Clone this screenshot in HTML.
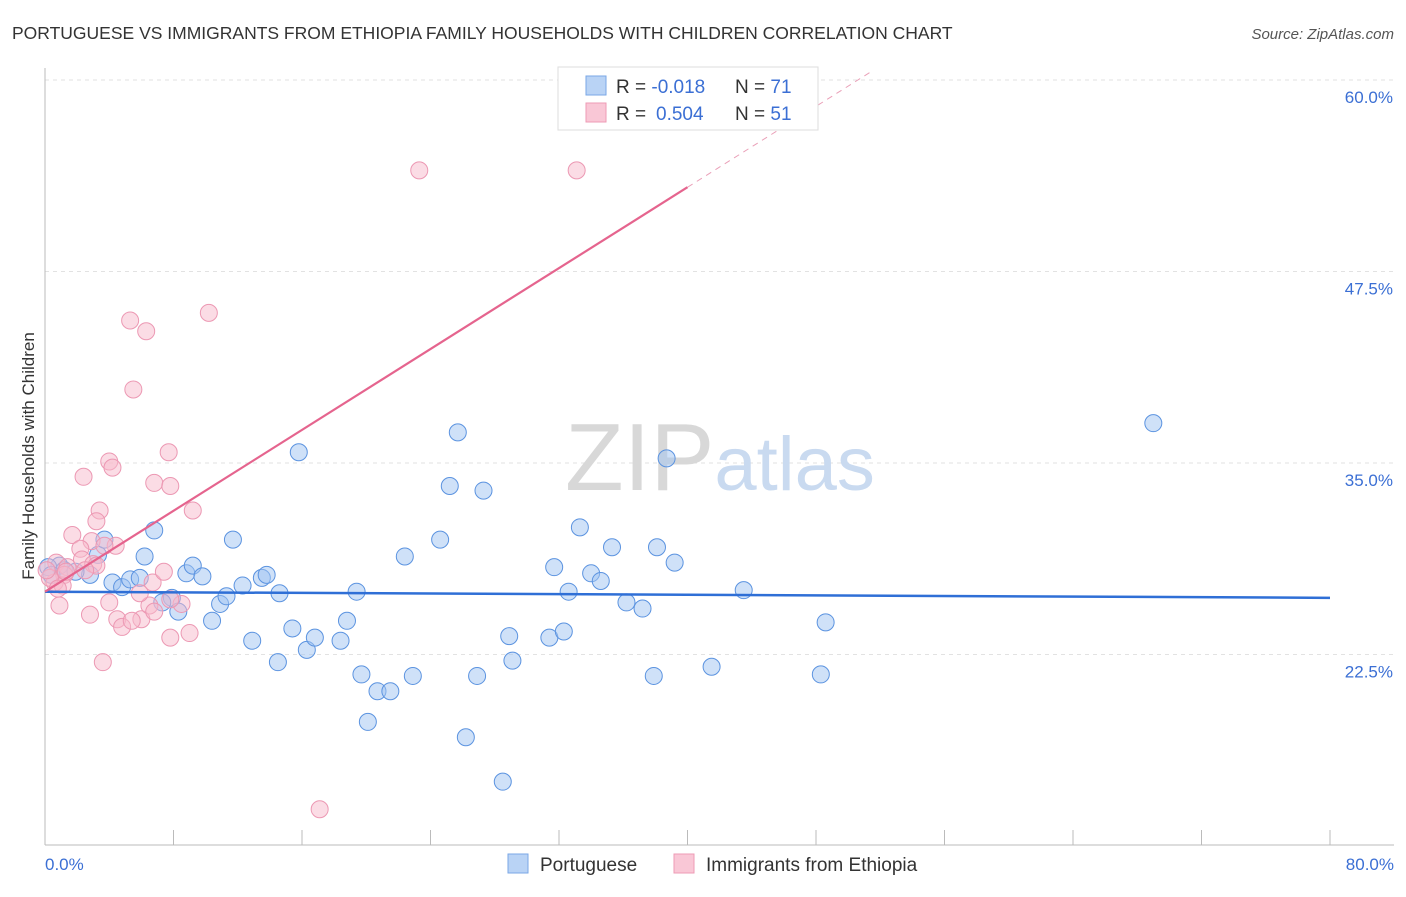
<!DOCTYPE html>
<html><head><meta charset="utf-8"><style>
body{margin:0;background:#fff;font-family:"Liberation Sans",sans-serif;}
svg text{font-family:"Liberation Sans",sans-serif;}
</style></head><body>
<svg id="chart" width="1406" height="892" xmlns="http://www.w3.org/2000/svg">
<text x="12" y="39" font-size="17.5" fill="#333">PORTUGUESE VS IMMIGRANTS FROM ETHIOPIA FAMILY HOUSEHOLDS WITH CHILDREN CORRELATION CHART</text>
<text x="1394" y="39" font-size="15" fill="#555" text-anchor="end" font-style="italic">Source: ZipAtlas.com</text>
<g id="grid"></g>
<text x="720" y="490" font-size="96" text-anchor="middle" fill="#ddd" font-family="Liberation Serif"><tspan fill="#d8d8d8">ZIP</tspan><tspan fill="#c9daf0" font-family="Liberation Sans" font-size="76">atlas</tspan></text>
<line x1="45" y1="68" x2="45" y2="845" stroke="#bbb"/>
<line x1="45" y1="845" x2="1394" y2="845" stroke="#bbb"/>
<text transform="translate(34,456) rotate(-90)" font-size="17" fill="#333" text-anchor="middle">Family Households with Children</text>
<text x="45" y="870" font-size="17" fill="#3b6fd4">0.0%</text>
<text x="1394" y="870" font-size="17" fill="#3b6fd4" text-anchor="end">80.0%</text>
<g id="marks"></g>
<g id="lines"></g>
<g>
<rect x="558" y="67" width="260" height="63" fill="#fff" stroke="#ddd"/>
<rect x="586" y="76" width="20" height="19" fill="#b9d3f5" stroke="#7aa7e6"/>
<rect x="586" y="103" width="20" height="19" fill="#f9c7d6" stroke="#ee9bb5"/>
<text x="616" y="93" font-size="19" fill="#333">R = <tspan fill="#3b6fd4">-0.018</tspan><tspan x="735">N = </tspan><tspan fill="#3b6fd4">71</tspan></text>
<text x="616" y="120" font-size="19" fill="#333">R = <tspan fill="#3b6fd4" x="656">0.504</tspan><tspan x="735">N = </tspan><tspan fill="#3b6fd4">51</tspan></text>
</g>
<g>
<rect x="508" y="854" width="20" height="19" fill="#b9d3f5" stroke="#7aa7e6"/>
<text x="540" y="871" font-size="19" fill="#333">Portuguese</text>
<rect x="674" y="854" width="20" height="19" fill="#f9c7d6" stroke="#ee9bb5"/>
<text x="706" y="871" font-size="19" fill="#333">Immigrants from Ethiopia</text>
</g>
</svg>
<script>
const yTicks=[22.5,35.0,47.5,60.0];
const xTicks=[0,8,16,24,32,40,48,56,64,72,80];
const blueX=[6.8,3.3,2.8,3.7,0.9,1.2,1.9,4.2,4.8,5.3,5.9,6.2,7.9,8.3,7.3,8.8,9.2,9.8,10.4,10.9,11.3,11.7,12.3,12.9,13.5,13.8,14.6,14.5,15.4,15.8,16.3,16.8,18.4,18.8,19.4,19.7,20.1,20.7,21.5,22.4,22.9,24.6,25.2,25.7,26.2,26.9,27.3,28.5,28.9,29.1,31.4,31.7,32.3,32.6,33.3,34.0,34.6,35.3,36.2,37.2,37.9,38.1,38.7,39.2,41.5,43.5,48.3,48.6,69.0,0.2,0.4];
const blueY=[30.6,29.0,27.7,30.0,28.3,28.0,27.9,27.2,26.9,27.4,27.5,28.9,26.2,25.3,25.9,27.8,28.3,27.6,24.7,25.8,26.3,30.0,27.0,23.4,27.5,27.7,26.5,22.0,24.2,35.7,22.8,23.6,23.4,24.7,26.6,21.2,18.1,20.1,20.1,28.9,21.1,30.0,33.5,37.0,17.1,21.1,33.2,14.2,23.7,22.1,23.6,28.2,24.0,26.6,30.8,27.8,27.3,29.5,25.9,25.5,21.1,29.5,35.3,28.5,21.7,26.7,21.2,24.6,37.6,28.2,27.7];
const pinkX=[23.3,33.1,10.2,5.3,6.3,5.5,4.0,7.7,4.2,2.4,6.8,7.8,9.2,3.4,3.2,1.7,4.4,2.9,2.2,3.7,0.7,1.4,2.3,3.0,3.2,1.2,0.6,1.1,0.3,1.3,6.7,7.4,0.9,4.0,2.8,4.5,6.0,6.5,8.5,6.8,4.8,5.4,7.8,9.0,3.6,17.1,5.9,7.8,0.8,0.1,2.5];
const pinkY=[54.1,54.1,44.8,44.3,43.6,39.8,35.1,35.7,34.7,34.1,33.7,33.5,31.9,31.9,31.2,30.3,29.6,29.9,29.4,29.6,28.5,28.2,28.7,28.4,28.3,27.7,27.2,27.0,27.5,27.9,27.2,27.9,25.7,25.9,25.1,24.8,24.8,25.7,25.8,25.3,24.3,24.7,23.6,23.9,22.0,12.4,26.5,26.1,26.8,28.0,28.0];
const blueTrend=[26.6,-0.005];
const pinkTrend=[26.6,0.66];
const NS='http://www.w3.org/2000/svg';
const X=v=>45+v*16.0625;
const Y=v=>80+(60-v)*15.32;
function mk(tag,attrs,parent){const e=document.createElementNS(NS,tag);for(const k in attrs)e.setAttribute(k,attrs[k]);parent.appendChild(e);return e;}
const grid=document.getElementById('grid');
yTicks.forEach(t=>{
  const l=mk('line',{x1:45,x2:1394,y1:Y(t),y2:Y(t),stroke:'#e2e2e2','stroke-dasharray':'4,4'},grid);
  
  
  const tx=mk('text',{x:1393,y:Y(t)+23,'font-size':17,fill:'#3b6fd4','text-anchor':'end'},grid);
  tx.textContent=t.toFixed(1)+'%';
  
  
});
xTicks.forEach(t=>{
  const l=mk('line',{x1:X(t),x2:X(t),y1:830,y2:845,stroke:'#bbb'},grid);
  
  
});
const marks=document.getElementById('marks');
blueX.forEach((x,i)=>{
  const c=mk('circle',{cx:X(x),cy:Y(blueY[i]),r:8.5,fill:'rgba(160,196,242,0.5)',stroke:'#5b93e0','stroke-width':1},marks);
  
  
});
pinkX.forEach((x,i)=>{
  const c=mk('circle',{cx:X(x),cy:Y(pinkY[i]),r:8.5,fill:'rgba(248,186,204,0.5)',stroke:'#ec98b3','stroke-width':1},marks);
  
  
});
const lines=document.getElementById('lines');
const bl=mk('line',{x1:X(0),y1:Y(blueTrend[0]),x2:X(80),y2:Y(blueTrend[0]+blueTrend[1]*80),stroke:'#2f6fd6','stroke-width':2.5},lines);


const pe=40;
const pl=mk('line',{x1:X(0),y1:Y(pinkTrend[0]),x2:X(pe),y2:Y(pinkTrend[0]+pinkTrend[1]*pe),stroke:'#e5648e','stroke-width':2.2},lines);


const xe=(60.5-pinkTrend[0])/pinkTrend[1];
const pd=mk('line',{x1:X(pe),y1:Y(pinkTrend[0]+pinkTrend[1]*pe),x2:X(xe),y2:Y(60.5),stroke:'#eaa0b8','stroke-width':1,'stroke-dasharray':'6,5'},lines);


</script>
</body></html>
